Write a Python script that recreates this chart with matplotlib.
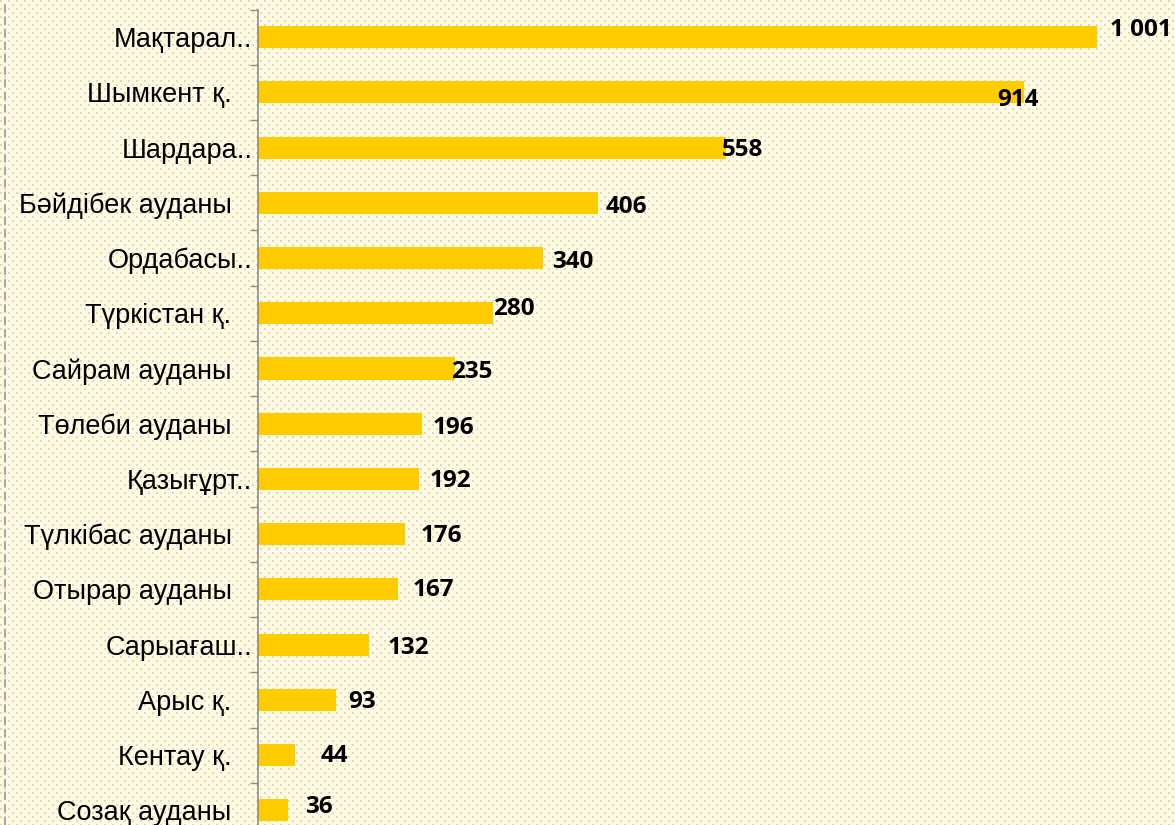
import numpy as np
import matplotlib.pyplot as plt
from matplotlib.lines import Line2D

# data
districts = ['Мақтарал..', 'Шымкент қ.', 'Шардара..', 'Бәйдібек ауданы', 'Ордабасы..',
             'Түркістан қ.', 'Сайрам ауданы', 'Төлеби ауданы', 'Қазығұрт..',
             'Түлкібас ауданы', 'Отырар ауданы', 'Сарыағаш..', 'Арыс қ.',
             'Кентау қ.', 'Созақ ауданы']
values = [1001, 914, 558, 406, 340, 280, 235, 196, 192, 176, 167, 132, 93, 44, 36]
truncated = [True, False, True, False, True, False, False, False, True,
             False, False, True, False, False, False]

# hand placed value labels (pixel offsets from bar end)
label_dx = [13, -27, -4, 7, 9, 0, -4, 10, 11, 15, 15, 19, 12, 26, 17]
label_dy = [-7, 8, 2, 4, 4, -4, 3, 4, 2, 2, 1, 3, 2, 1, -3]

W, H = 1175, 825
fig = plt.figure(figsize=(W / 100, H / 100), dpi=100)

# dotted cream background
bg = np.ones((H, W, 3)) * np.array([254, 250, 228]) / 255
yy, xx = np.mgrid[0:H, 0:W]
dots = ((yy % 8 < 2) & (xx % 8 < 2)) | (((yy + 4) % 8 < 2) & ((xx + 4) % 8 < 2))
bg[dots] = np.array([226, 217, 180]) / 255
bgax = fig.add_axes([0, 0, 1, 1], zorder=-1)
bgax.imshow(bg, aspect='auto', interpolation='nearest')
bgax.axis('off')

ax = fig.add_axes([258 / W, 1 - 838 / H, (W - 258) / W, 828.5 / H], zorder=1)
ax.set_facecolor('none')

y = np.arange(len(values))
ax.barh(y, values, height=0.4, color='#ffcc00', zorder=2)
ax.set_ylim(len(values) - 0.5, -0.5)
ax.set_xlim(0, (W - 258) / 0.838)

for i, v in enumerate(values):
    txt = f'{v:,}'.replace(',', ' ')
    ax.annotate(txt, xy=(v, i), xytext=(label_dx[i], -label_dy[i]),
                textcoords='offset pixels', ha='left', va='center',
                fontsize=17.5, fontweight='bold', family='Open Sans', color='black',
                annotation_clip=False)

for s in ['top', 'right', 'bottom']:
    ax.spines[s].set_visible(False)
ax.spines['left'].set_color('#8c8c8c')
ax.spines['left'].set_linewidth(1.2)
ax.set_xticks([])

ax.set_yticks(y)
ax.set_yticklabels(districts, fontsize=19.5, family='Liberation Sans')
ax.set_yticks(np.arange(len(values) + 1) - 0.5, minor=True)
ax.tick_params(axis='y', which='major', length=0)
ax.tick_params(axis='y', which='minor', length=6, color='#8c8c8c', width=1)
for tick, tr in zip(ax.yaxis.get_major_ticks(), truncated):
    tick.set_pad(4 if tr else 19)

fig.add_artist(Line2D([5 / W, 5 / W], [0, 1], transform=fig.transFigure,
                      color='#a8a8a8', lw=1.5, ls=(0, (4, 2))))

fig.savefig('out.png', dpi=100)
